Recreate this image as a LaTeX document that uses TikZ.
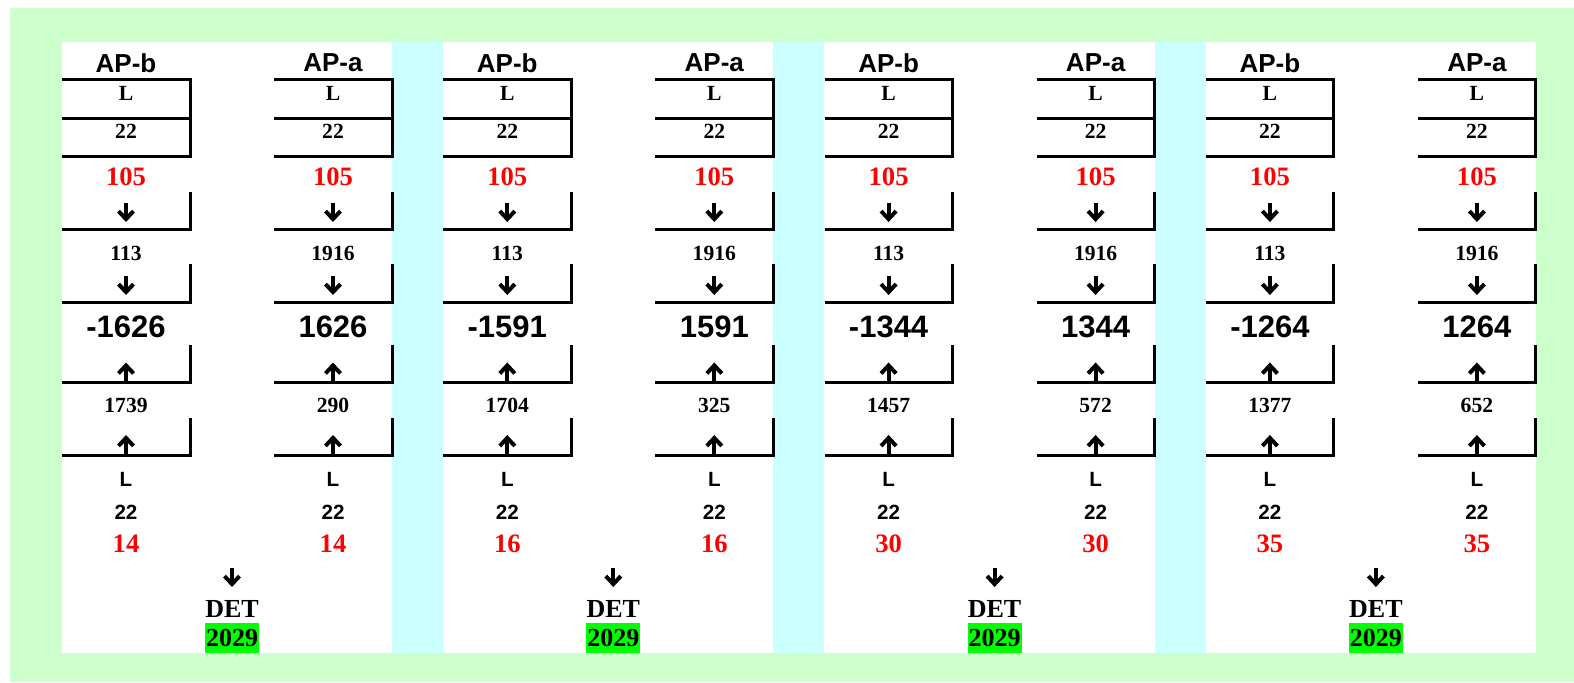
\documentclass[tikz,border=0pt]{standalone}
\usepackage{fontspec}
\setmainfont{Liberation Serif}
\setsansfont{Liberation Sans}
\usetikzlibrary{arrows.meta}
\definecolor{pagegreen}{HTML}{CCFFCC}
\definecolor{stripcyan}{HTML}{CCFFFF}
\definecolor{detgreen}{HTML}{00FF00}

\begin{document}
\begin{tikzpicture}[x=0.5pt,y=-0.5pt,
  every node/.style={inner sep=0pt},
  hdr/.style={font=\sffamily\bfseries\fontsize{13}{13}\selectfont},
  boxtxt/.style={font=\bfseries\fontsize{10.8}{11}\selectfont},
  redtxt/.style={text=red,font=\bfseries\fontsize{13.3}{14}\selectfont},
  midtxt/.style={font=\sffamily\bfseries\fontsize{15.5}{16}\selectfont},
  sanstxt/.style={font=\sffamily\bfseries\fontsize{10.3}{11}\selectfont},
  dettxt/.style={font=\bfseries\fontsize{13}{13}\selectfont},
  detval/.style={dettxt,fill=detgreen,minimum width=27pt,minimum height=15pt},
  cell/.style={line width=1.5pt},
  arr/.style={line width=2pt,-{Straight Barb[length=4pt,width=7.5pt]}}]
\useasboundingbox (0,0) rectangle (1574,682);
\fill[pagegreen] (10,8) rectangle (1574,682);
\fill[white] (62,42) rectangle (1536,653);
\foreach \k in {0,1,2}
  \fill[stripcyan] (392+381.3*\k,42) rectangle (443+381.3*\k,653);

\foreach \k/\bm/\bp/\am/\ap/\n in {0/-1626/1739/1626/290/14,
    1/-1591/1704/1591/325/16, 2/-1344/1457/1344/572/30,
    3/-1264/1377/1264/652/35}{
  \pgfmathsetmacro\o{381.3*\k}
  \foreach \c/\cx/\xl/\xr/\s/\m/\u in {b/126/62/190/113/\bm/\bp,
      a/333/274/392/1916/\am/\ap}{
    % boxes
    \draw[cell] (\xl+\o,79) -| (\xr+\o,156) -- (\xl+\o,156);
    \draw[cell] (\xl+\o,118) -- (\xr+\o,118);
    \draw[cell] (\xr+\o,192) |- (\xl+\o,229);
    \draw[cell] (\xr+\o,264) |- (\xl+\o,302);
    \draw[cell] (\xr+\o,345) |- (\xl+\o,382);
    \draw[cell] (\xr+\o,418) |- (\xl+\o,455);
    % column texts
    \node[hdr] (hd\c\k) at (\cx+\o,63) {AP-\c};
    \node[boxtxt] (la\c\k) at (\cx+\o,93) {L};
    \node[boxtxt] (na\c\k) at (\cx+\o,131.5) {22};
    \node[redtxt] (r\c\k) at (\cx+\o,176.5) {105};
    \node[boxtxt] (s\c\k) at (\cx+\o,253) {\s};
    \node[midtxt] (m\c\k) at (\cx+\o,326.5) {\m};
    \node[boxtxt] (u\c\k) at (\cx+\o,405) {\u};
    \node[sanstxt] (lb\c\k) at (\cx+\o,479) {L};
    \node[sanstxt] (nb\c\k) at (\cx+\o,512.5) {22};
    \node[redtxt] (e\c\k) at (\cx+\o,543.5) {\n};
    % arrows
    \draw[arr] ([yshift=-13.25pt]r\c\k.center) -- ([yshift=15.5pt]s\c\k.center);
    \draw[arr] ([yshift=-11.5pt]s\c\k.center) -- ([yshift=15.75pt]m\c\k.center);
    \draw[arr] ([yshift=11pt]u\c\k.center) -- ([yshift=-18pt]m\c\k.center);
    \draw[arr] ([yshift=12pt]lb\c\k.center) -- ([yshift=-15pt]u\c\k.center);
  }
  \coordinate (dt\k) at (232+\o,568);
  \node[dettxt] (det\k) at (232+\o,609) {DET};
  \node[detval] (v\k) at (232+\o,638) {2029};
  \draw[arr] (dt\k) -- ([yshift=11pt]det\k.center);
}
\end{tikzpicture}
\end{document}
